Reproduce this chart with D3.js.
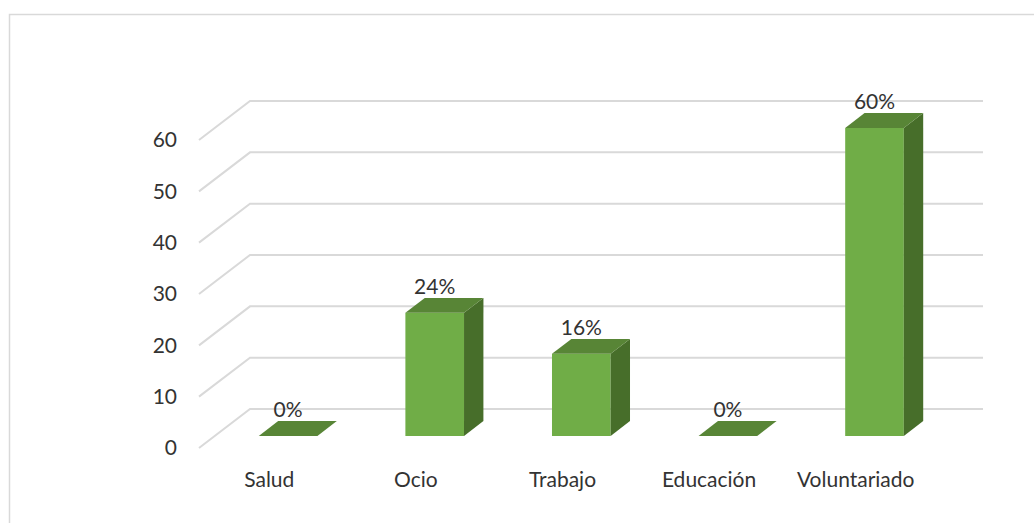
<!DOCTYPE html>
<html>
<head>
<meta charset="utf-8">
<script src="https://cdn.jsdelivr.net/npm/d3@7"></script>
<style>
  html, body { margin: 0; padding: 0; background: #fff; }
  svg { display: block; }
  text { font-family: Lato, "Open Sans", sans-serif; fill: #333333; }
</style>
</head>
<body>
<svg id="chart" width="1034" height="523"></svg>
<script>
const categories = ["Salud", "Ocio", "Trabajo", "Educación", "Voluntariado"];
const values = [0, 24, 16, 0, 60];
const labels = ["0%", "24%", "16%", "0%", "60%"];
const yTicks = [0, 10, 20, 30, 40, 50, 60];

const svg = d3.select("#chart");
const W = 1034, H = 523;

// chart border
svg.append("rect")
  .attr("x", 9.5).attr("y", 14.5)
  .attr("width", W + 10).attr("height", H + 10)
  .attr("fill", "none").attr("stroke", "#d9d9d9").attr("stroke-width", 1.5);

// 3D projection parameters
const depthDX = 51, depthDY = -39;
const x = d3.scaleBand().domain(categories).range([199, 932]).paddingInner(0).paddingOuter(0);
const y = d3.scaleLinear().domain([0, 60]).range([448, 140]);
function proj(px, v, z) { return [px + z * depthDX, y(v) + z * depthDY]; }

// gridlines: left diagonal + back wall line
const grid = svg.append("g");
yTicks.forEach(t => {
  const a = proj(x.range()[0], t, 0), b = proj(x.range()[0], t, 1), c = proj(x.range()[1], t, 1);
  grid.append("path")
    .attr("d", d3.line()([a, b, c]))
    .attr("fill", "none").attr("stroke", "#d9d9d9").attr("stroke-width", 2);
});

// y tick labels
svg.append("g").selectAll("text").data(yTicks).join("text")
  .attr("x", 177).attr("y", d => y(d)).attr("dy", "0.35em")
  .attr("text-anchor", "end").attr("font-size", 21)
  .text(d => d);

// category labels
svg.append("g").selectAll("text").data(categories).join("text")
  .attr("x", d => x(d) + x.bandwidth() / 2 - 3).attr("y", 487)
  .attr("text-anchor", "middle").attr("font-size", 21)
  .text(d => d);

// bars
const z0 = 0.31, z1 = 0.69, widthFrac = 0.4;
const cFront = "#70AD47", cTop = "#588536", cSide = "#476E2A";
const bars = svg.append("g");
categories.forEach((cat, i) => {
  const v = values[i];
  const bw = x.bandwidth() * widthFrac;
  const xl = x(cat) + (x.bandwidth() - bw) / 2, xr = xl + bw;
  const g = bars.append("g");
  const line = d3.line();
  if (v > 0) {
    g.append("path").attr("d", line([proj(xl, 0, z0), proj(xr, 0, z0), proj(xr, v, z0), proj(xl, v, z0)]) + "Z")
      .attr("fill", cFront);
    g.append("path").attr("d", line([proj(xr, 0, z0), proj(xr, 0, z1), proj(xr, v, z1), proj(xr, v, z0)]) + "Z")
      .attr("fill", cSide);
  }
  g.append("path").attr("d", line([proj(xl, v, z0), proj(xr, v, z0), proj(xr, v, z1), proj(xl, v, z1)]) + "Z")
    .attr("fill", cTop);
  const lp = proj(xl + bw / 2, v, z0);
  const top = proj(xl, v, z1);
  g.append("text")
    .attr("x", lp[0]).attr("y", top[1] - 4)
    .attr("text-anchor", "middle").attr("font-size", 21)
    .text(labels[i]);
});
</script>
</body>
</html>
